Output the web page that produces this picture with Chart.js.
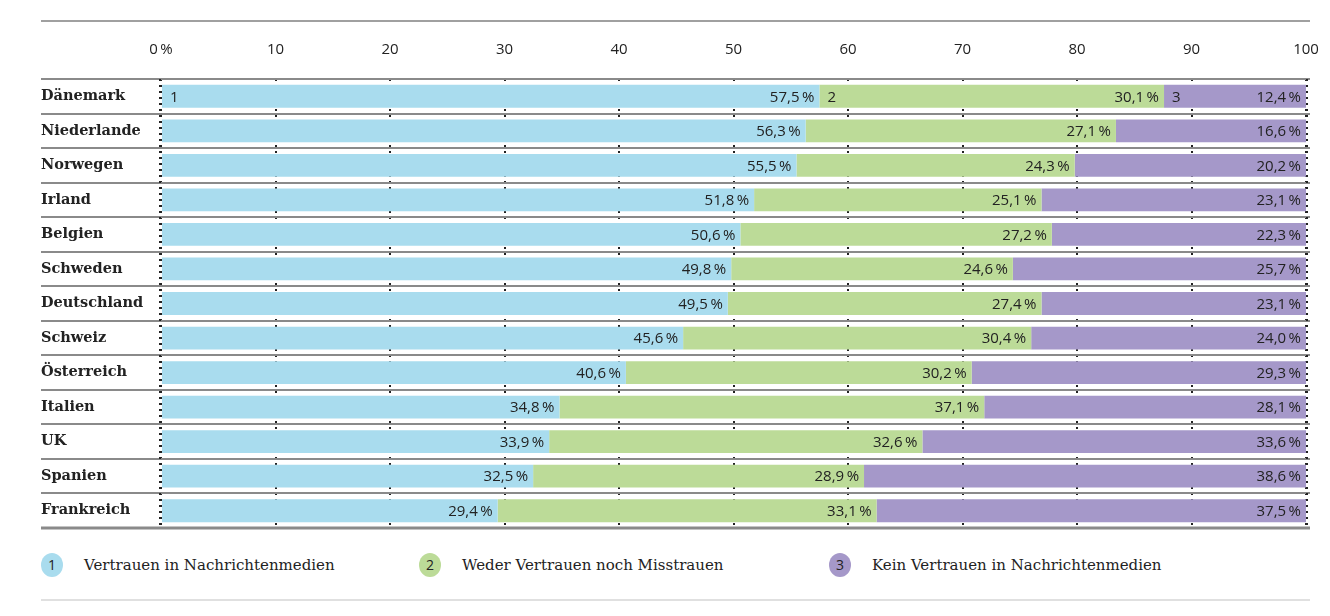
<!DOCTYPE html>
<html lang="de">
<head>
    <meta charset="UTF-8">
    <script src="https://cdn.jsdelivr.net/npm/chart.js"></script>
    <title>Vertrauen in Nachrichtenmedien</title>
    <style>
        body {
            margin: 0;
            background: #fff;
        }
        #wrap {
            position: relative;
            width: 1330px;
            height: 616px;
        }
        canvas {
            position: absolute;
            left: 0;
            top: 0;
        }
        .legende {
            position: absolute;
            top: 553px;
            height: 24px;
            font-family: "DejaVu Serif", serif;
            font-size: 15px;
            color: #222;
            line-height: 24px;
        }
        .punkt {
            position: absolute;
            top: 0;
            width: 22px;
            height: 24px;
            border-radius: 50%;
            font-family: "Open Sans", sans-serif;
            font-size: 14px;
            text-align: center;
            line-height: 24px;
        }
        .legende span.txt {
            position: absolute;
            left: 43px;
            white-space: nowrap;
        }
        #linie-unten {
            position: absolute;
            left: 41px;
            top: 599px;
            width: 1269px;
            height: 2px;
            background: #e0e0e0;
        }
    </style>
</head>
<body>
    <div id="wrap">
        <canvas id="chart" width="1330" height="540"></canvas>
        <div class="legende" style="left:41px">
            <div class="punkt" style="background:#a9dcee">1</div>
            <span class="txt">Vertrauen in Nachrichtenmedien</span>
        </div>
        <div class="legende" style="left:419px">
            <div class="punkt" style="background:#bcdb98">2</div>
            <span class="txt">Weder Vertrauen noch Misstrauen</span>
        </div>
        <div class="legende" style="left:829px">
            <div class="punkt" style="background:#a598c9">3</div>
            <span class="txt">Kein Vertrauen in Nachrichtenmedien</span>
        </div>
        <div id="linie-unten"></div>
    </div>

    <script>
        // Daten
        const laender = ["Dänemark", "Niederlande", "Norwegen", "Irland", "Belgien", "Schweden",
            "Deutschland", "Schweiz", "Österreich", "Italien", "UK", "Spanien", "Frankreich"];
        const vertrauen = [57.5, 56.3, 55.5, 51.8, 50.6, 49.8, 49.5, 45.6, 40.6, 34.8, 33.9, 32.5, 29.4];
        const weder = [30.1, 27.1, 24.3, 25.1, 27.2, 24.6, 27.4, 30.4, 30.2, 37.1, 32.6, 28.9, 33.1];
        const keinVertrauen = [12.4, 16.6, 20.2, 23.1, 22.3, 25.7, 23.1, 24.0, 29.3, 28.1, 33.6, 38.6, 37.5];
        const achsenTicks = [0, 10, 20, 30, 40, 50, 60, 70, 80, 90, 100];
        const serienNamen = ["Vertrauen in Nachrichtenmedien", "Weder Vertrauen noch Misstrauen", "Kein Vertrauen in Nachrichtenmedien"];

        const farben = ["#a9dcee", "#bcdb98", "#a598c9"];
        const zahlFont = '15px "Open Sans", sans-serif';

        function formatProzent(v) {
            return v.toFixed(1).replace(".", ",") + "\u2009%";
        }

        // Linien, Rahmen und Beschriftungen in den Balken
        const dekoPlugin = {
            id: "deko",
            beforeDraw(chart) {
                const ctx = chart.ctx;
                ctx.save();
                ctx.strokeStyle = "#a0a0a0";
                ctx.lineWidth = 2;
                ctx.beginPath();
                ctx.moveTo(41, 21);
                ctx.lineTo(1310, 21);
                ctx.stroke();
                ctx.restore();
            },
            afterDatasetsDraw(chart) {
                const ctx = chart.ctx;
                const area = chart.chartArea;
                const x = chart.scales.x;
                ctx.save();
                // Zeilentrenner
                const n = laender.length;
                const rowH = (area.bottom - area.top) / n;
                ctx.strokeStyle = "#8a8a8a";
                for (let i = 0; i <= n; i++) {
                    const yy = Math.round(area.top + i * rowH);
                    ctx.lineWidth = i === n ? 3 : 2;
                    ctx.beginPath();
                    ctx.moveTo(41, yy);
                    ctx.lineTo(1310, yy);
                    ctx.stroke();
                }
                // gepunktete Randlinien bei 0 und 100
                ctx.strokeStyle = "#222";
                ctx.lineWidth = 2;
                ctx.setLineDash([2, 4]);
                [0, 100].forEach(v => {
                    const xx = x.getPixelForValue(v) + (v === 0 ? -1 : 1);
                    ctx.beginPath();
                    ctx.moveTo(xx, area.top);
                    ctx.lineTo(xx, area.bottom);
                    ctx.stroke();
                });
                ctx.setLineDash([]);
                // Werte
                ctx.font = zahlFont;
                ctx.fillStyle = "#222";
                ctx.textBaseline = "middle";
                chart.data.datasets.forEach((ds, di) => {
                    const meta = chart.getDatasetMeta(di);
                    meta.data.forEach((bar, i) => {
                        const ende = Math.min(bar.x, x.getPixelForValue(100));
                        ctx.textAlign = "right";
                        ctx.fillText(formatProzent(ds.data[i]), ende - 5, bar.y + 1);
                        if (i === 0) {
                            ctx.textAlign = "left";
                            ctx.fillText(String(di + 1), bar.base + 8, bar.y + 1);
                        }
                    });
                });
                ctx.restore();
            }
        };

        new Chart(document.getElementById("chart"), {
            type: "bar",
            data: {
                labels: laender,
                datasets: [
                    { label: serienNamen[0], data: vertrauen, backgroundColor: farben[0] },
                    { label: serienNamen[1], data: weder, backgroundColor: farben[1] },
                    { label: serienNamen[2], data: keinVertrauen, backgroundColor: farben[2] }
                ]
            },
            options: {
                indexAxis: "y",
                responsive: false,
                animation: false,
                events: [],
                layout: { padding: { left: 41, right: 24, top: 0, bottom: 12 } },
                datasets: {
                    bar: { categoryPercentage: 1, barPercentage: 0.66, borderWidth: 0 }
                },
                plugins: {
                    legend: { display: false },
                    tooltip: { enabled: false }
                },
                scales: {
                    x: {
                        position: "top",
                        stacked: true,
                        min: 0,
                        max: 100,
                        afterBuildTicks: scale => {
                            scale.ticks = achsenTicks.map(v => ({ value: v }));
                        },
                        afterFit: scale => {
                            scale.height = 79;
                            scale.paddingLeft = 0;
                            scale.paddingRight = 0;
                        },
                        ticks: {
                            padding: 20,
                            color: "#222",
                            font: { family: "Open Sans", size: 15 },
                            callback: v => v === 0 ? "0\u2009%" : String(v)
                        },
                        grid: {
                            color: "#222",
                            lineWidth: 2,
                            drawTicks: false
                        },
                        border: { display: false, dash: [2, 4] }
                    },
                    y: {
                        stacked: true,
                        afterFit: scale => { scale.width = 120; },
                        ticks: {
                            crossAlign: "far",
                            color: "#222",
                            font: { family: "DejaVu Serif", size: 14.5, weight: "bold" }
                        },
                        grid: { display: false },
                        border: { display: false }
                    }
                }
            },
            plugins: [dekoPlugin]
        });
    </script>
</body>
</html>
